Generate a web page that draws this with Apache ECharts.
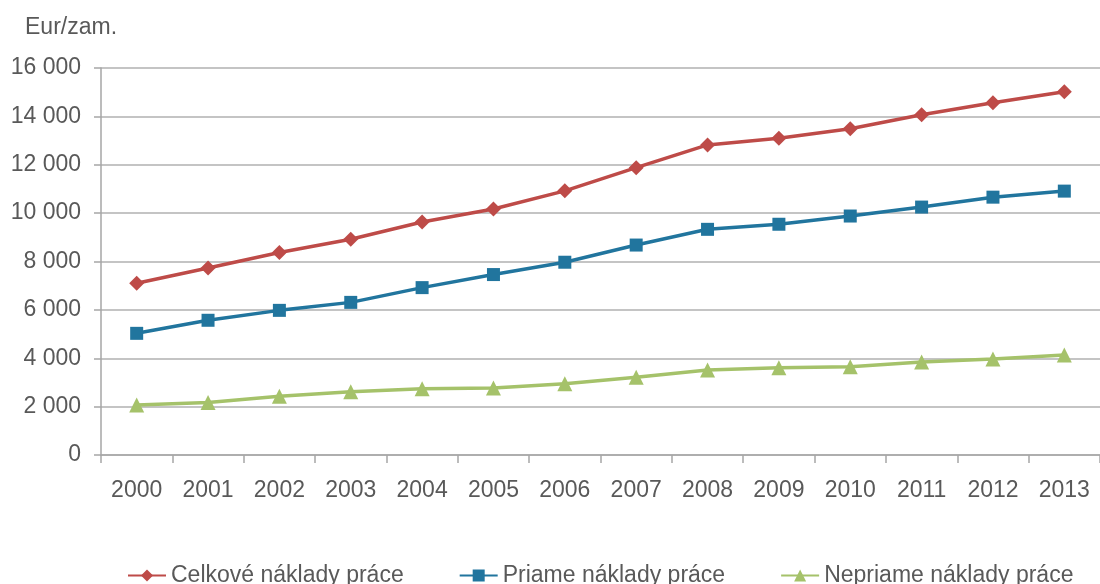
<!DOCTYPE html>
<html>
<head>
<meta charset="utf-8">
<script src="https://cdn.jsdelivr.net/npm/echarts@6/dist/echarts.min.js"></script>
<style>
  html, body { margin: 0; padding: 0; background: #fff; }
  #chart { width: 1100px; height: 584px; }
</style>
</head>
<body>
<div id="chart"></div>
<script>
const years = ['2000', '2001', '2002', '2003', '2004', '2005', '2006',
  '2007', '2008', '2009', '2010', '2011', '2012', '2013']

const celkove = [7100, 7730, 8370, 8920, 9630, 10170, 10920,
  11880, 12820, 13100, 13490, 14070, 14560, 15020]
const priame = [5030, 5570, 5980, 6310, 6920, 7460, 7970,
  8680, 9330, 9540, 9880, 10250, 10660, 10910]
const nepriame = [2070, 2170, 2430, 2610, 2740, 2770, 2950,
  3210, 3510, 3610, 3650, 3840, 3970, 4130]

const seriesNames = ['Celkové náklady práce', 'Priame náklady práce', 'Nepriame náklady práce']
const unitLabel = 'Eur/zam.'

const textColor = '#595959'
const fontFamily = '"Liberation Sans", Arial, sans-serif'

// 16000 -> "16 000"
const fmt = (v) => String(v).replace(/\B(?=(\d{3})+(?!\d))/g, ' ')

const chart = echarts.init(document.getElementById('chart'))

const lineSeries = (name, data, color, symbol, size) => ({
  name,
  type: 'line',
  data,
  symbol,
  symbolSize: size,
  lineStyle: { color, width: 3.5 },
  itemStyle: { color },
  emphasis: { disabled: true }
})

chart.setOption({
  animation: false,
  textStyle: { fontFamily },
  title: {
    text: unitLabel,
    left: 20,
    top: 11,
    textStyle: { color: textColor, fontSize: 23, fontWeight: 'normal', fontFamily }
  },
  legend: {
    data: seriesNames,
    left: 122,
    top: 559,
    itemWidth: 38,
    itemHeight: 15,
    itemGap: 55,
    textStyle: { color: textColor, fontSize: 23, fontFamily }
  },
  grid: {
    left: 101,
    top: 68,
    width: 1005,
    height: 387
  },
  xAxis: {
    type: 'category',
    data: years,
    boundaryGap: true,
    axisLine: { lineStyle: { color: '#a6a6a6', width: 1.5 } },
    axisTick: { show: true, length: 8, lineStyle: { color: '#a6a6a6', width: 1.5 } },
    axisLabel: { color: textColor, fontSize: 23, margin: 24, fontFamily }
  },
  yAxis: {
    type: 'value',
    min: 0,
    max: 16000,
    interval: 2000,
    axisLine: { show: true, lineStyle: { color: '#a6a6a6', width: 1.5 } },
    axisTick: { show: true, length: 7, lineStyle: { color: '#a6a6a6', width: 1.5 } },
    axisLabel: { color: textColor, fontSize: 23, margin: 20, formatter: fmt, fontFamily },
    splitLine: { lineStyle: { color: '#c4c4c4', width: 2 } }
  },
  series: [
    lineSeries(seriesNames[0], celkove, '#BE4B48', 'diamond', 15),
    lineSeries(seriesNames[1], priame, '#21759E', 'rect', 13),
    lineSeries(seriesNames[2], nepriame, '#A5C26A', 'triangle', 15)
  ]
})
</script>
</body>
</html>
